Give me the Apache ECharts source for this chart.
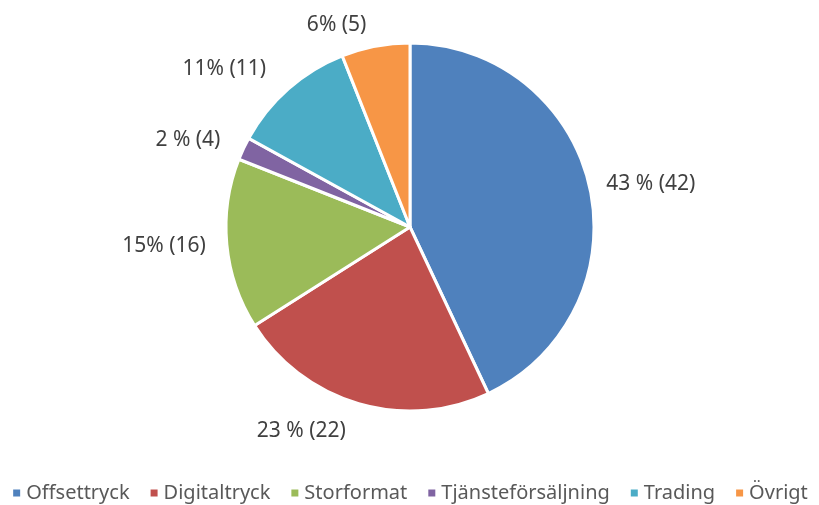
<!DOCTYPE html>
<html>
<head>
<meta charset="utf-8">
<script src="https://cdn.jsdelivr.net/npm/echarts@6/dist/echarts.min.js"></script>
<style>
  html, body { margin: 0; padding: 0; background: #fff; }
  #chart { width: 819px; height: 505px; }
</style>
</head>
<body>
<div id="chart"></div>
<script>
// segment names, shares (%) and the label texts as printed
const categories = ["Offsettryck", "Digitaltryck", "Storformat", "Tjänsteförsäljning", "Trading", "Övrigt"];
const shares = [43, 23, 15, 2, 11, 6];
const labels = ["43 % (42)", "23 % (22)", "15% (16)", "2 % (4)", "11% (11)", "6% (5)"];
const colors = ["#4F81BD", "#C0504D", "#9BBB59", "#8064A2", "#4BACC6", "#F79646"];

// how far each label sits outside the rim (layout only)
const labelGap = [12, 28, 16, 20, 26, 22];

const chart = echarts.init(document.getElementById("chart"));

const data = categories.map((name, i) => ({
  name: name,
  value: shares[i],
  label: { formatter: labels[i] },
  labelLine: { length: labelGap[i] }
}));

chart.setOption({
  color: colors,
  animation: false,
  legend: {
    bottom: -3,
    left: "center",
    padding: [5, 0, 5, 10],
    icon: "rect",
    itemWidth: 9,
    itemHeight: 9,
    itemGap: 19,
    textStyle: { fontFamily: "Noto Sans", fontSize: 20, color: "#595959" },
    data: categories
  },
  series: [{
    type: "pie",
    center: [410, 227],
    radius: 184,
    startAngle: 90,
    clockwise: true,
    data: data,
    itemStyle: { borderColor: "#fff", borderWidth: 3 },
    label: {
      show: true,
      position: "outside",
      fontFamily: "Noto Sans",
      fontSize: 21,
      color: "#404040"
    },
    labelLine: { show: false, length2: 0 },
    emphasis: { disabled: true }
  }]
});
</script>
</body>
</html>
